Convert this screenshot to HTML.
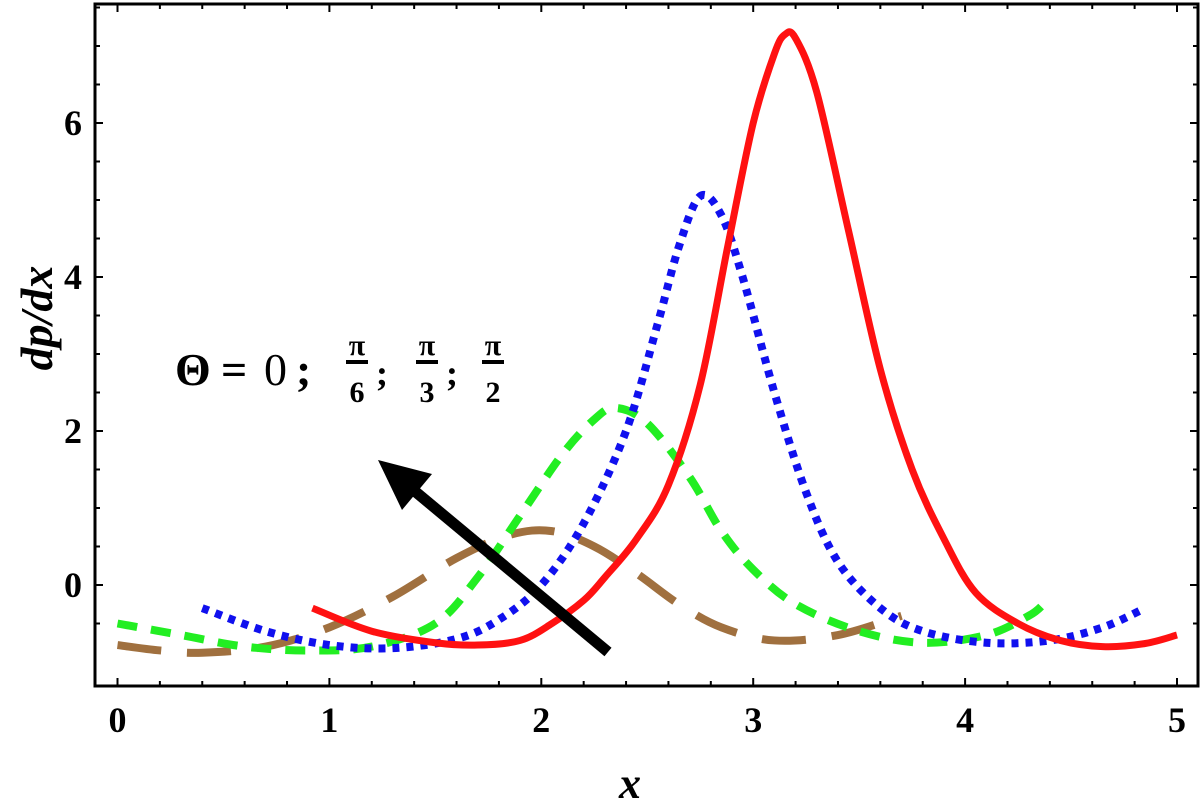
<!DOCTYPE html>
<html><head><meta charset="utf-8"><style>
body{margin:0;background:#fff;}
svg{display:block;font-family:"Liberation Serif",serif;}
</style></head><body>
<svg id="chart" width="1200" height="806" viewBox="0 0 1200 806">
<g id="ticks"></g>
<g id="series"></g>
<rect x="95" y="4" width="1103" height="682" fill="none" stroke="#000" stroke-width="3"/>
<g>
<line x1="608" y1="652" x2="405" y2="483" stroke="#000" stroke-width="11"/>
<polygon points="378,460 432,474 402,510" fill="#000"/>
</g>
<g font-weight="bold" font-size="46">
<text x="175" y="385">Θ</text>
<text x="221" y="385">=</text>
<text x="264" y="385" font-weight="normal">0</text>
<text x="296" y="385">;</text>
<text x="357" y="355" font-size="30" text-anchor="middle">π</text><line x1="346" y1="362" x2="368" y2="362" stroke="#000" stroke-width="4"/><text x="357" y="402" font-size="30" text-anchor="middle">6</text><text x="376" y="385" font-size="36">;</text>
<text x="427" y="355" font-size="30" text-anchor="middle">π</text><line x1="416" y1="362" x2="438" y2="362" stroke="#000" stroke-width="4"/><text x="427" y="402" font-size="30" text-anchor="middle">3</text><text x="446" y="385" font-size="36">;</text>
<text x="493" y="355" font-size="30" text-anchor="middle">π</text><line x1="482" y1="362" x2="504" y2="362" stroke="#000" stroke-width="4"/><text x="493" y="402" font-size="30" text-anchor="middle">2</text>
</g>
<text x="630" y="798" font-size="44" font-weight="bold" font-style="italic" text-anchor="middle">x</text>
<text transform="translate(52,318) rotate(-90)" font-size="46" font-weight="bold" font-style="italic" text-anchor="middle">dp/dx</text>
</svg>
<script>
const xTicks=[0,1,2,3,4,5];
const yTicks=[0,2,4,6];
const redX=[0.92,1.2,1.5,1.7,1.9,2.05,2.2,2.3,2.45,2.6,2.75,2.88,3.0,3.1,3.15,3.2,3.3,3.45,3.6,3.75,3.9,4.05,4.25,4.45,4.65,4.85,5.0];
const redY=[-0.3,-0.6,-0.75,-0.78,-0.72,-0.5,-0.2,0.1,0.6,1.3,2.6,4.4,6.0,6.9,7.15,7.1,6.4,4.6,2.8,1.5,0.6,-0.1,-0.5,-0.72,-0.8,-0.76,-0.65];
const blueX=[0.4,0.7,1.0,1.3,1.6,1.8,2.0,2.2,2.4,2.55,2.65,2.75,2.85,2.95,3.1,3.25,3.4,3.6,3.8,4.1,4.4,4.65,4.85];
const blueY=[-0.3,-0.6,-0.78,-0.82,-0.7,-0.45,0,0.8,2.0,3.4,4.4,5.05,4.8,4.0,2.5,1.2,0.3,-0.3,-0.6,-0.75,-0.72,-0.55,-0.3];
const greenX=[0,0.3,0.6,0.9,1.2,1.5,1.7,1.9,2.1,2.25,2.35,2.5,2.7,2.85,3.0,3.2,3.5,3.8,4.1,4.3,4.37];
const greenY=[-0.5,-0.65,-0.8,-0.85,-0.8,-0.5,0.1,0.9,1.7,2.15,2.3,2.1,1.4,0.7,0.2,-0.25,-0.6,-0.75,-0.65,-0.4,-0.25];
const brownX=[0,0.2,0.4,0.7,1.0,1.3,1.6,1.85,2.05,2.25,2.45,2.65,2.85,3.1,3.4,3.7];
const brownY=[-0.78,-0.85,-0.88,-0.8,-0.55,-0.15,0.35,0.65,0.7,0.5,0.15,-0.25,-0.55,-0.72,-0.65,-0.4];
const NS="http://www.w3.org/2000/svg";
const sx=v=>117.5+v*211.9;
const sy=v=>585-v*77;
const tg=document.getElementById('ticks');
function mk(tag,attrs,parent){const e=document.createElementNS(NS,tag);for(const k in attrs)e.setAttribute(k,attrs[k]);parent.appendChild(e);return e;}
for(let i=0;i<=25;i++){const v=i*0.2,x=sx(v),L=(i%5==0)?8:5;
 mk('line',{x1:x,y1:686,x2:x,y2:686-L,stroke:'#000','stroke-width':2},tg);
 mk('line',{x1:x,y1:4,x2:x,y2:4+L,stroke:'#000','stroke-width':2},tg);}
for(let i=-1;i<=15;i++){const v=i*0.5,y=sy(v);if(y<4||y>686)continue;const L=(i%4==0)?8:5;
 mk('line',{x1:95,y1:y,x2:95+L,y2:y,stroke:'#000','stroke-width':2},tg);
 mk('line',{x1:1198,y1:y,x2:1198-L,y2:y,stroke:'#000','stroke-width':2},tg);}
xTicks.forEach(v=>{const t=mk('text',{x:sx(v),y:732,'font-size':36,'font-weight':'bold','text-anchor':'middle'},tg);t.textContent=v;
 
 });
yTicks.forEach(v=>{const t=mk('text',{x:82,y:sy(v)+12,'font-size':36,'font-weight':'bold','text-anchor':'end'},tg);t.textContent=v;
 
 });
const sg=document.getElementById('series');
function path(xs,ys){let d='';const p=xs.map((x,i)=>[sx(x),sy(ys[i])]);
 d='M'+p[0][0]+','+p[0][1];
 for(let i=0;i<p.length-1;i++){const p0=p[i-1]||p[i],p1=p[i],p2=p[i+1],p3=p[i+2]||p2;
  const c1x=p1[0]+(p2[0]-p0[0])/6,c1y=p1[1]+(p2[1]-p0[1])/6,c2x=p2[0]-(p3[0]-p1[0])/6,c2y=p2[1]-(p3[1]-p1[1])/6;
  d+=` C${c1x},${c1y} ${c2x},${c2y} ${p2[0]},${p2[1]}`;}
 return d;}
const b=mk('path',{d:path(brownX,brownY),fill:'none',stroke:'#a0703f','stroke-width':8,'stroke-dasharray':'44 26'},sg);


const g=mk('path',{d:path(greenX,greenY),fill:'none',stroke:'#22ee22','stroke-width':8,'stroke-dasharray':'20 14'},sg);


const bl=mk('path',{d:path(blueX,blueY),fill:'none',stroke:'#1010ee','stroke-width':8,'stroke-dasharray':'7 7'},sg);


const r=mk('path',{d:path(redX,redY),fill:'none',stroke:'#ff1111','stroke-width':7},sg);


</script>
</body></html>
